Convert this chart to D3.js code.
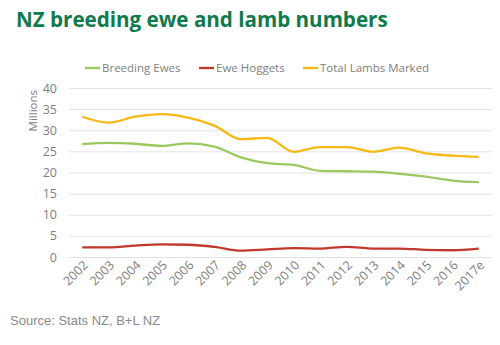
<!DOCTYPE html>
<html><head><meta charset="utf-8">
<script src="https://cdn.jsdelivr.net/npm/d3@7"></script>
<style>body{margin:0;background:#fff}svg{display:block}</style>
</head><body><svg id="c" width="500" height="345"></svg>
<script>
const years = ["2002","2003","2004","2005","2006","2007","2008","2009","2010","2011","2012","2013","2014","2015","2016","2017e"];
const breedingEwes = [26.7,27.0,26.8,26.3,26.9,26.1,23.6,22.2,21.8,20.4,20.3,20.2,19.7,19.0,18.1,17.7];
const eweHoggets = [2.3,2.3,2.7,3.0,2.9,2.4,1.5,1.8,2.1,2.0,2.4,2.0,2.0,1.7,1.6,2.0];
const totalLambs = [33.2,31.8,33.2,33.8,33.0,31.1,27.9,28.2,24.9,26.0,26.0,24.9,25.9,24.5,24.0,23.7];
const yTicks = [0,5,10,15,20,25,30,35,40];
const seriesNames = ["Breeding Ewes","Ewe Hoggets","Total Lambs Marked"];
const seriesColors = ["#9bc95f","#c0392b","#f6b916"];
const seriesData = [breedingEwes, eweHoggets, totalLambs];

const svg = d3.select("#c");
const grey = "#808080";
const x = d3.scalePoint().domain(years).range([69,492]).padding(0.5);
const y = d3.scaleLinear().domain([0,40]).range([257,88]);

svg.append("text").attr("x",16).attr("y",27).attr("fill","#0f7a4c")
  .attr("font-family","'Open Sans', sans-serif").attr("font-weight","bold").attr("font-size",20.6)
  .text("NZ breeding ewe and lamb numbers");

// grid
const yAxis = d3.axisLeft(y).tickValues(yTicks).tickSize(-(492-69)).tickPadding(12);
const gy = svg.append("g").attr("transform","translate(69,0)").call(yAxis);
gy.select(".domain").remove();
gy.selectAll(".tick line").attr("stroke","#e3e3e3");
gy.selectAll(".tick text").attr("fill",grey).attr("font-family","'Open Sans', sans-serif").attr("font-size",12.5);

const xAxis = d3.axisBottom(x).tickSize(0).tickPadding(0);
const gx = svg.append("g").attr("transform","translate(0,257)").call(xAxis);
gx.select(".domain").remove();
gx.selectAll(".tick text").attr("fill",grey).attr("font-family","'Open Sans', sans-serif").attr("font-size",12.5)
  .attr("text-anchor","end").attr("y",0).attr("dy",0).attr("transform","translate(6,9) rotate(-45)");

svg.append("text").attr("transform","translate(37,90) rotate(-90)").attr("text-anchor","end")
  .attr("fill",grey).attr("font-family","'Open Sans', sans-serif").attr("font-size",11.5).text("Millions");

const line = d3.line().x((d,i)=>x(years[i])).y(d=>y(d)).curve(d3.curveMonotoneX);
seriesData.forEach((s,k)=>{
  svg.append("path").datum(s).attr("d",line).attr("fill","none")
    .attr("stroke",seriesColors[k]).attr("stroke-width",2.3).attr("stroke-linejoin","round");
});

// legend
const legX = [85,199,303];
seriesNames.forEach((n,k)=>{
  svg.append("line").attr("x1",legX[k]).attr("x2",legX[k]+15).attr("y1",68).attr("y2",68)
    .attr("stroke",seriesColors[k]).attr("stroke-width",2.4);
  svg.append("text").attr("x",legX[k]+17).attr("y",72).attr("fill",grey)
    .attr("font-family","'Open Sans', sans-serif").attr("font-size",11.5).text(n);
});

svg.append("text").attr("x",10).attr("y",325).attr("fill","#8a8a8a")
  .attr("font-family","'Liberation Sans', Arial, sans-serif").attr("font-size",13)
  .text("Source: Stats NZ, B+L NZ");
</script></body></html>
